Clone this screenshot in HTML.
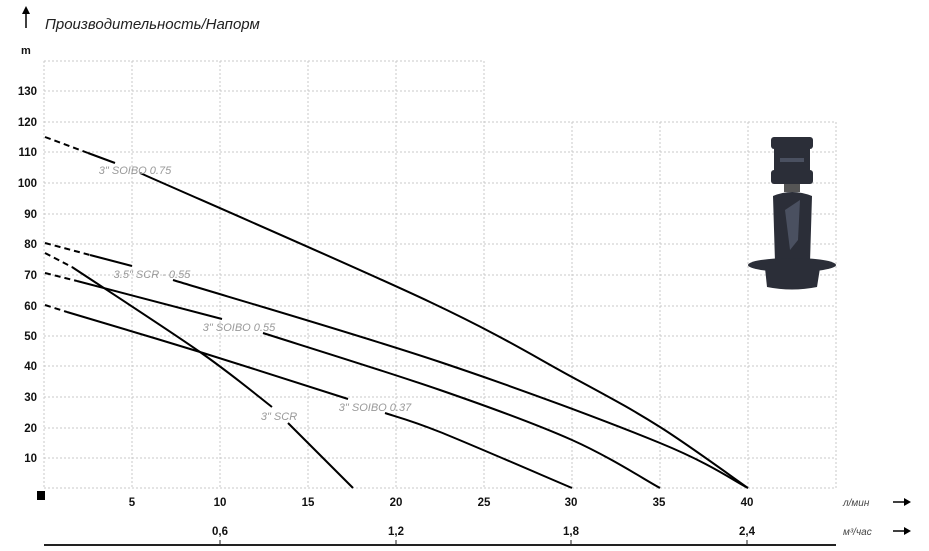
<!DOCTYPE html>
<html><head><meta charset="utf-8"><style>
html,body{margin:0;padding:0;background:#fff;}
svg{display:block;}
.t{font-family:"Liberation Sans",sans-serif;}
</style></head><body>
<svg id="s" width="929" height="551" viewBox="0 0 929 551" xmlns="http://www.w3.org/2000/svg">
<g stroke="#c8c8c8" stroke-width="1" stroke-dasharray="2,2" fill="none">
<line x1="44" y1="61" x2="484" y2="61"/>
<line x1="44" y1="91" x2="484" y2="91"/>
<line x1="44" y1="122" x2="836" y2="122"/>
<line x1="44" y1="152" x2="836" y2="152"/>
<line x1="44" y1="183" x2="836" y2="183"/>
<line x1="44" y1="214" x2="836" y2="214"/>
<line x1="44" y1="244" x2="836" y2="244"/>
<line x1="44" y1="275" x2="836" y2="275"/>
<line x1="44" y1="306" x2="836" y2="306"/>
<line x1="44" y1="336" x2="836" y2="336"/>
<line x1="44" y1="366" x2="836" y2="366"/>
<line x1="44" y1="397" x2="836" y2="397"/>
<line x1="44" y1="428" x2="836" y2="428"/>
<line x1="44" y1="458" x2="836" y2="458"/>
<line x1="44" y1="488" x2="836" y2="488"/>
<line x1="44" y1="61" x2="44" y2="488"/>
<line x1="132" y1="61" x2="132" y2="488"/>
<line x1="220" y1="61" x2="220" y2="488"/>
<line x1="308" y1="61" x2="308" y2="488"/>
<line x1="396" y1="61" x2="396" y2="488"/>
<line x1="484" y1="61" x2="484" y2="488"/>
<line x1="572" y1="122" x2="572" y2="488"/>
<line x1="660" y1="122" x2="660" y2="488"/>
<line x1="748" y1="122" x2="748" y2="488"/>
<line x1="836" y1="122" x2="836" y2="488"/>
</g>
<g stroke="#000" stroke-width="2" stroke-dasharray="6,4" fill="none">
<line x1="45" y1="137" x2="88" y2="153"/>
<line x1="45" y1="243" x2="90" y2="255"/>
<line x1="45" y1="253" x2="72" y2="267"/>
<line x1="45" y1="273" x2="77" y2="281"/>
<line x1="45" y1="305" x2="67" y2="312"/>
</g>
<g id="curves" stroke="#000" stroke-width="2" fill="none">
<path d="M88 153 L115 163"/>
<path d="M90 255 L132 266"/>
<path d="M77 281 L222 319"/>
</g>
<g class="t" font-style="italic" font-size="11" fill="#999" text-anchor="middle">
<text x="135" y="174">3" SOIBO 0.75</text>
<text x="152" y="278">3.5" SCR - 0.55</text>
<text x="239" y="331">3" SOIBO 0.55</text>
<text x="279" y="420">3" SCR</text>
<text x="375" y="411">3" SOIBO 0.37</text>
</g>
<g class="t" font-weight="bold" font-size="11.5" fill="#111" text-anchor="end">
<text x="37" y="95">130</text><text x="37" y="126">120</text><text x="37" y="156">110</text>
<text x="37" y="187">100</text><text x="37" y="218">90</text><text x="37" y="248">80</text>
<text x="37" y="279">70</text><text x="37" y="310">60</text><text x="37" y="340">50</text>
<text x="37" y="370">40</text><text x="37" y="401">30</text><text x="37" y="432">20</text>
<text x="37" y="462">10</text>
</g>
<text class="t" x="21" y="54" font-weight="bold" font-size="11" fill="#111">m</text>
<line x1="26" y1="28" x2="26" y2="12" stroke="#000" stroke-width="1.5"/>
<polygon points="22,14 26,6 30,14" fill="#000"/>
<text class="t" x="45" y="29" font-style="italic" font-size="15" fill="#222">Производительность/Напорм</text>
<rect x="37" y="491" width="8" height="9" fill="#000"/>
<g class="t" font-weight="bold" font-size="11.5" fill="#111" text-anchor="middle">
<text x="132" y="506">5</text><text x="220" y="506">10</text><text x="308" y="506">15</text>
<text x="396" y="506">20</text><text x="484" y="506">25</text><text x="571" y="506">30</text>
<text x="659" y="506">35</text><text x="747" y="506">40</text>
<text x="220" y="535">0,6</text><text x="396" y="535">1,2</text><text x="571" y="535">1,8</text><text x="747" y="535">2,4</text>
</g>
<text class="t" x="843" y="506" font-style="italic" font-size="10" fill="#444">л/мин</text>
<text class="t" x="843" y="535" font-style="italic" font-size="10" fill="#444">м³/час</text>
<g stroke="#000" stroke-width="1.5"><line x1="893" y1="502" x2="906" y2="502"/><line x1="893" y1="531" x2="906" y2="531"/></g>
<polygon points="904,498 911,502 904,506" fill="#000"/>
<polygon points="904,527 911,531 904,535" fill="#000"/>
<line x1="44" y1="545" x2="836" y2="545" stroke="#222" stroke-width="2"/>
<g stroke="#222" stroke-width="1"><line x1="220" y1="540" x2="220" y2="545"/><line x1="396" y1="540" x2="396" y2="545"/><line x1="571" y1="540" x2="571" y2="545"/><line x1="747" y1="540" x2="747" y2="545"/></g>
<g fill="#2b2e38">
<rect x="771" y="137" width="42" height="12" rx="3"/>
<rect x="774" y="147" width="36" height="24"/>
<rect x="771" y="170" width="42" height="14" rx="3"/>
<rect x="784" y="184" width="16" height="8" fill="#555"/>
<path d="M773 196 Q792 188 812 196 L810 262 L775 262 Z"/>
<ellipse cx="792" cy="265" rx="44" ry="7"/>
<path d="M765 268 L820 268 L817 287 Q792 292 767 287 Z"/>
</g>
<g fill="#4a5060"><rect x="780" y="158" width="24" height="4"/><path d="M785 210 L800 200 L798 240 L790 250 Z"/></g>
</svg>
<script>
var series=[
[[140,173],[430,302],[572,377],[660,427],[748,488]],
[[173,280],[440,362],[660,443],[748,488]],
[[72,267],[200,352],[272,407]],
[[288,423],[353,488]],
[[263,333],[440,390],[572,440],[660,488]],
[[67,312],[200,352],[348,399]],
[[385,413],[440,432],[572,488]]
];
var g=document.getElementById('curves');
series.forEach(function(p){
 var d='M'+p[0][0]+' '+p[0][1];
 for(var i=0;i<p.length-1;i++){
  var p0=p[Math.max(0,i-1)],p1=p[i],p2=p[i+1],p3=p[Math.min(p.length-1,i+2)];
  var c1x=p1[0]+(p2[0]-p0[0])/6,c1y=p1[1]+(p2[1]-p0[1])/6;
  var c2x=p2[0]-(p3[0]-p1[0])/6,c2y=p2[1]-(p3[1]-p1[1])/6;
  d+=' C'+c1x.toFixed(1)+' '+c1y.toFixed(1)+' '+c2x.toFixed(1)+' '+c2y.toFixed(1)+' '+p2[0]+' '+p2[1];
 }
 var e=document.createElementNS('http://www.w3.org/2000/svg','path');
 e.setAttribute('d',d);g.appendChild(e);
});
</script>
</body></html>
